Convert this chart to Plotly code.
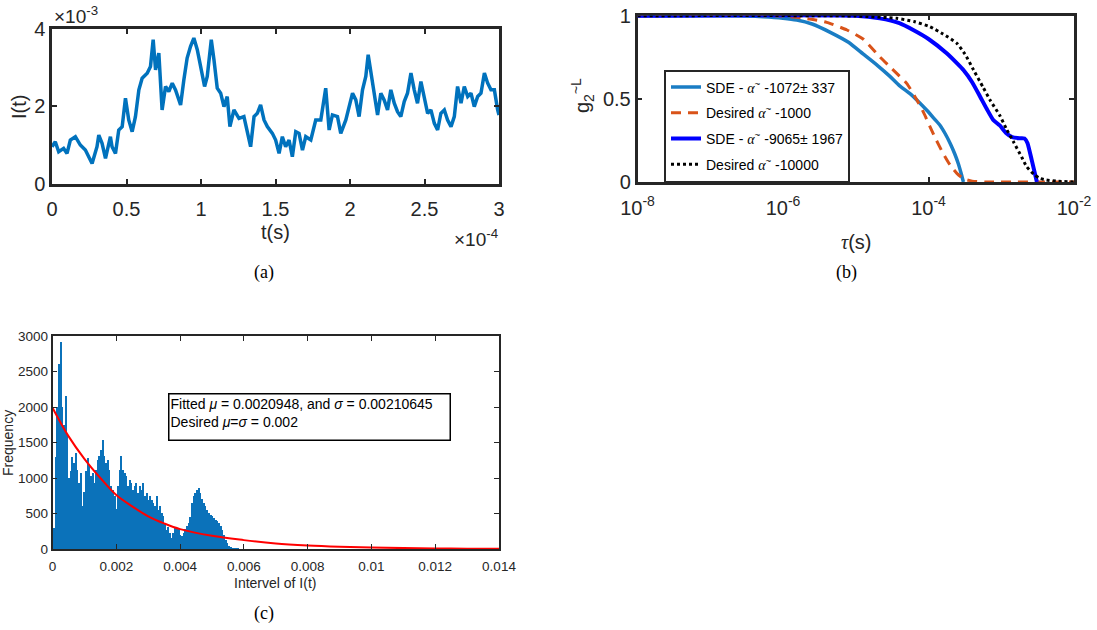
import numpy as np
import plotly.graph_objects as go

W, H = 1097, 630
def X(px): return px / W
def Y(py): return 1 - py / H

# ---------------- (a) I(t) time series (t in 1e-4 s, I in 1e-3) ----------------
t_e4 = [0.000, 0.022, 0.045, 0.078, 0.101, 0.123, 0.157, 0.190, 0.224, 0.258,
        0.269, 0.302, 0.314, 0.336, 0.359, 0.392, 0.403, 0.426, 0.448, 0.471,
        0.493, 0.515, 0.538, 0.560, 0.583, 0.605, 0.639, 0.661, 0.679, 0.695,
        0.717, 0.739, 0.762, 0.784, 0.807, 0.829, 0.863, 0.885, 0.907, 0.930,
        0.952, 0.975, 0.997, 1.024, 1.042, 1.069, 1.087, 1.109, 1.132, 1.154,
        1.176, 1.194, 1.221, 1.255, 1.288, 1.322, 1.333, 1.356, 1.378, 1.400,
        1.423, 1.445, 1.479, 1.501, 1.524, 1.546, 1.568, 1.591, 1.613, 1.636,
        1.658, 1.681, 1.703, 1.737, 1.770, 1.804, 1.837, 1.860, 1.882, 1.916,
        1.938, 1.972, 1.994, 2.017, 2.039, 2.061, 2.084, 2.106, 2.122, 2.140,
        2.162, 2.185, 2.207, 2.229, 2.252, 2.274, 2.297, 2.319, 2.341, 2.364,
        2.386, 2.409, 2.431, 2.453, 2.476, 2.498, 2.521, 2.543, 2.566, 2.588,
        2.610, 2.633, 2.655, 2.678, 2.700, 2.722, 2.745, 2.767, 2.790, 2.812,
        2.834, 2.857, 2.879, 2.902, 2.924, 2.946, 2.969, 2.991, 3.000]
I_e3 = [0.952, 1.082, 0.823, 0.909, 0.779, 1.126, 1.212, 0.996, 0.866, 0.606,
        0.519, 0.952, 1.255, 1.039, 0.649, 1.212, 0.952, 0.779, 1.385, 1.472,
        2.208, 1.645, 1.342, 1.732, 2.424, 2.727, 2.857, 3.030, 3.723, 2.944,
        3.377, 1.905, 2.511, 2.381, 2.597, 2.424, 2.035, 2.684, 3.247, 3.550,
        3.766, 3.463, 3.030, 2.511, 2.771, 3.723, 3.203, 2.468, 2.338, 1.991,
        2.251, 1.472, 1.905, 1.688, 1.732, 1.126, 0.952, 1.732, 1.818, 2.035,
        1.645, 1.472, 1.299, 1.126, 0.779, 1.212, 0.952, 1.126, 0.693, 1.342,
        1.299, 0.866, 1.212, 1.126, 1.645, 1.645, 2.468, 1.385, 1.775, 1.732,
        1.299, 1.645, 1.991, 2.338, 2.165, 1.732, 2.424, 2.771, 3.333, 2.900,
        2.424, 1.775, 2.338, 2.165, 1.905, 2.424, 2.078, 1.861, 1.732, 2.121,
        2.338, 2.857, 2.424, 2.078, 2.641, 2.251, 1.818, 1.905, 1.558, 1.385,
        1.818, 1.905, 1.645, 1.472, 1.732, 2.511, 2.078, 2.511, 2.251, 2.338,
        1.991, 2.251, 2.338, 2.857, 2.597, 2.424, 2.424, 1.905, 1.775]
a_xticks = [0, 0.5, 1, 1.5, 2, 2.5, 3]
a_xticktext = ["0", "0.5", "1", "1.5", "2", "2.5", "3"]
a_yticks = [0, 2, 4]

# ---------------- (b) g2 curves (log10 tau, g) ----------------
sde1_logtau = [-8, -7, -6.5, -6.27, -6.0, -5.81, -5.6, -5.35, -5.1, -4.9, -4.7, -4.53,
               -4.4, -4.25, -4.13, -4.02, -3.92, -3.84, -3.77, -3.70, -3.64, -3.59,
               -3.55, -3.52]
sde1_g = [1.0, 1.0, 0.998, 0.994, 0.985, 0.974, 0.95, 0.90, 0.84, 0.77, 0.70, 0.635,
          0.58, 0.53, 0.48, 0.43, 0.38, 0.34, 0.29, 0.23, 0.17, 0.11, 0.05, 0.0]
des1_logtau = [-8, -6, -5.63, -5.4, -5.12, -4.9, -4.67, -4.5, -4.30, -4.16, -4.07,
               -3.98, -3.89, -3.80, -3.70, -3.61, -3.52, -3.40, -3.2, -2.0]
des1_g = [1.0, 0.998, 0.98, 0.96, 0.914, 0.86, 0.753, 0.68, 0.593, 0.493, 0.42,
          0.333, 0.25, 0.173, 0.10, 0.052, 0.02, 0.005, 0.0, 0.0]
sde2_logtau = [-8, -5, -4.67, -4.4, -4.21, -4.0, -3.75, -3.6, -3.52, -3.4, -3.29,
               -3.2, -3.11, -3.02, -2.93, -2.85, -2.75, -2.68, -2.64, -2.58, -2.51]
sde2_g = [1.0, 1.0, 0.984, 0.955, 0.914, 0.86, 0.774, 0.71, 0.673, 0.60, 0.513,
          0.44, 0.373, 0.34, 0.293, 0.27, 0.263, 0.262, 0.235, 0.13, 0.0]
des2_logtau = [-8, -5.0, -4.44, -4.2, -3.98, -3.8, -3.61, -3.5, -3.38, -3.25, -3.15,
               -3.02, -2.93, -2.83, -2.72, -2.65, -2.55, -2.47, -2.38, -2.24, -2.0]
des2_g = [1.0, 0.998, 0.984, 0.965, 0.934, 0.89, 0.834, 0.77, 0.673, 0.57, 0.49,
          0.40, 0.32, 0.24, 0.15, 0.092, 0.045, 0.022, 0.012, 0.005, 0.0]
b_xticks = [1e-8, 1e-6, 1e-4, 1e-2]
b_xticktext = ["10<sup>-8</sup>", "10<sup>-6</sup>", "10<sup>-4</sup>", "10<sup>-2</sup>"]
b_yticks = [0, 0.5, 1]
b_yticktext = ["0", "0.5", "1"]
alpha = "<span style='font-family:Liberation Serif'><i>α</i></span><sup>~</sup>"
b_names = [f"SDE - {alpha} -1072± 337", f"Desired {alpha} -1000",
           f"SDE - {alpha} -9065± 1967", f"Desired {alpha} -10000"]

# ---------------- (c) histogram ----------------
hist_bin_width = 0.014 / 265
hist_counts = [300, 1300, 2000, 2600, 2910, 2000, 1750, 2156, 1600, 1000,
               1100, 1300, 1212, 1354, 1118, 929, 1071, 600, 800, 1100,
               1280, 1165, 1024, 1071, 929, 1118, 1259, 1307, 1401, 1542,
               1307, 1212, 1259, 1118, 882, 835, 741, 560, 882, 1118,
               1307, 1118, 1071, 1024, 882, 976, 929, 835, 882, 929,
               788, 882, 835, 929, 741, 788, 693, 741, 693, 646,
               599, 741, 552, 599, 505, 458, 363, 269, 316, 222,
               151, 222, 316, 300, 280, 200, 180, 230, 280, 320,
               360, 450, 646, 741, 788, 835, 860, 790, 700, 649,
               600, 555, 508, 480, 461, 440, 414, 390, 367, 320,
               273, 200, 132, 80, 38, 20, 14, 8, 5, 3]
fit_x = [0, 0.0005, 0.001, 0.0015, 0.002, 0.0025, 0.003, 0.0035, 0.004, 0.005,
         0.006, 0.007, 0.008, 0.009, 0.010, 0.011, 0.012, 0.013, 0.014]
fit_y = [1990, 1590, 1270, 1000, 760, 600, 460, 360, 280, 185,
         125, 78, 50, 32, 20, 13, 8, 5, 3]
c_xticks = [0, 0.002, 0.004, 0.006, 0.008, 0.01, 0.012, 0.014]
c_xticktext = ["0", "0.002", "0.004", "0.006", "0.008", "0.01", "0.012", "0.014"]
c_yticks = [0, 500, 1000, 1500, 2000, 2500, 3000]

# ---------------- figure ----------------
AX = "#262626"
FONT = "Liberation Sans"
fig = go.Figure()

fig.add_trace(go.Scatter(x=t_e4, y=I_e3, mode="lines", xaxis="x", yaxis="y",
                         line=dict(color="#0072BD", width=3.5), showlegend=False))

tau = lambda L: [10 ** v for v in L]
SM = 0.5
fig.add_trace(go.Scatter(x=tau(sde1_logtau), y=sde1_g, mode="lines", xaxis="x2", yaxis="y2",
                         name=b_names[0], legendgroup="g1",
                         line=dict(color="#1a7dc4", width=3.5, shape="spline", smoothing=SM)))
fig.add_trace(go.Scatter(x=tau(des1_logtau), y=des1_g, mode="lines", xaxis="x2", yaxis="y2",
                         name=b_names[1], legendgroup="g2",
                         line=dict(color="#D95319", width=3, dash="10px,7px",
                                   shape="spline", smoothing=SM)))
fig.add_trace(go.Scatter(x=tau(sde2_logtau), y=sde2_g, mode="lines", xaxis="x2", yaxis="y2",
                         name=b_names[2], legendgroup="g3",
                         line=dict(color="#0000FF", width=4, shape="spline", smoothing=SM)))
fig.add_trace(go.Scatter(x=tau(des2_logtau), y=des2_g, mode="lines", xaxis="x2", yaxis="y2",
                         name=b_names[3], legendgroup="g4",
                         line=dict(color="#000000", width=3, dash="dot",
                                   shape="spline", smoothing=SM)))

centers = (np.arange(len(hist_counts)) + 0.5) * hist_bin_width
fig.add_trace(go.Bar(x=centers, y=hist_counts, width=hist_bin_width * 1.2, xaxis="x3", yaxis="y3",
                     marker=dict(color="#0b72ba", line=dict(width=0)), showlegend=False))
fig.add_trace(go.Scatter(x=fit_x, y=fit_y, mode="lines", xaxis="x3", yaxis="y3",
                         line=dict(color="#FF0000", width=2, shape="spline"), showlegend=False))

def axstyle(size, lw, **kw):
    d = dict(showline=True, linecolor=AX, linewidth=lw, mirror="ticks", ticks="inside",
             ticklen=5, tickwidth=lw * 0.8, tickcolor=AX, showgrid=False, zeroline=False,
             automargin=False, tickfont=dict(family=FONT, size=size, color=AX))
    d.update(kw)
    return d

fig.update_layout(
    width=W, height=H, margin=dict(l=0, r=0, t=0, b=0, pad=0, autoexpand=False),
    paper_bgcolor="white", plot_bgcolor="white", bargap=0,
    font=dict(family=FONT, color=AX),
    xaxis=axstyle(20, 2.5, domain=[X(52), X(499)], range=[0, 3], tickvals=a_xticks,
                  ticktext=a_xticktext, anchor="y", ticklabelstandoff=6),
    yaxis=axstyle(20, 2.5, domain=[Y(183.5), Y(29)], range=[0, 4], tickvals=a_yticks,
                  ticktext=["0", "2", "4"], anchor="x"),
    xaxis2=axstyle(20, 2.5, type="log", domain=[X(637.5), X(1074)], range=[-8, -2],
                   tickvals=b_xticks, ticktext=b_xticktext, anchor="y2", layer="below traces",
                   ticklabelstandoff=6),
    yaxis2=axstyle(20, 2.5, domain=[Y(182), Y(15.7)], range=[0, 1], tickvals=b_yticks,
                   ticktext=b_yticktext, anchor="x2", layer="below traces"),
    xaxis3=axstyle(13.5, 1.6, domain=[X(52.5), X(499)], range=[0, 0.014], tickvals=c_xticks,
                   ticktext=c_xticktext, anchor="y3", ticklabelstandoff=4),
    yaxis3=axstyle(13.5, 1.6, domain=[Y(549), Y(336)], range=[0, 3000], tickvals=c_yticks,
                   anchor="x3"),
    legend=dict(x=X(664), y=Y(69.5), xanchor="left", yanchor="top", xref="paper", yref="paper",
                bgcolor="white", bordercolor=AX, borderwidth=2, tracegroupgap=4.5,
                itemwidth=30, font=dict(family=FONT, size=14, color="black")),
)

def ann(text, x, y, size=20, angle=0, xanchor="center", family=FONT, color=AX, **kw):
    fig.add_annotation(text=text, x=X(x), y=Y(y), xref="paper", yref="paper",
                       showarrow=False, textangle=angle, xanchor=xanchor, yanchor="middle",
                       font=dict(family=family, size=size, color=color), **kw)

# (a) labels
ann("×10<sup>-3</sup>", 52, 15, size=19, xanchor="left")
ann("t(s)", 275, 232)
ann("×10<sup>-4</sup>", 500, 238, size=19, xanchor="right")
ann("I(t)", 19, 107, angle=-90)
ann("(a)", 264, 272, size=18, family="Liberation Serif", color="black")
# (b) labels
ann("g<sub>2</sub><sup>~L</sup>", 582, 96, angle=-90)
ann("<span style='font-family:Liberation Serif'><i>τ</i></span>(s)", 856, 242)
ann("(b)", 846, 272, size=18, family="Liberation Serif", color="black")
# (c) labels
ann("Frequency", 8, 443, size=14, angle=-90)
ann("Intervel of I(t)", 275, 583, size=14)
ann("(c)", 264, 613, size=18, family="Liberation Serif", color="black")
fig.add_annotation(
    text="Fitted <i>μ</i> = 0.0020948, and <i>σ</i> = 0.00210645<br>Desired <i>μ</i>=<i>σ</i> = 0.002",
    x=X(168), y=Y(393), xref="paper", yref="paper", xanchor="left", yanchor="top",
    showarrow=False, align="left", valign="top", width=278, height=43,
    bordercolor="black", borderwidth=1.5, borderpad=1, bgcolor="white",
    font=dict(family=FONT, size=14, color="black"))

fig.write_html("out.html", config={"displayModeBar": False},
               post_script="document.body.style.margin='0';document.body.style.overflow='hidden';")
